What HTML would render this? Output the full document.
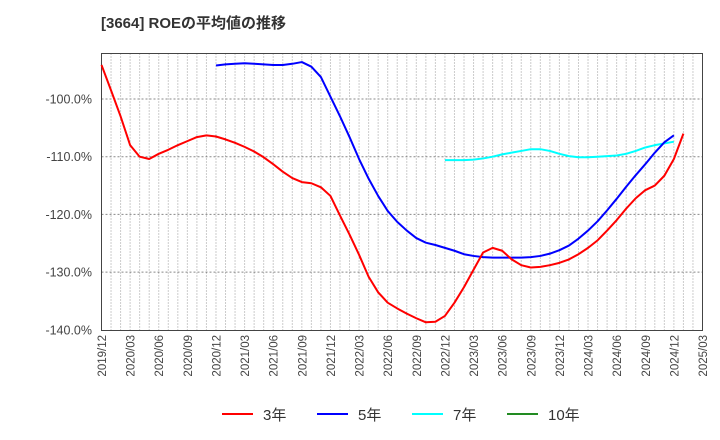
<!DOCTYPE html>
<html><head><meta charset="utf-8"><style>
body{margin:0;background:#fff;}
svg{display:block;font-family:"Liberation Sans","Noto Sans CJK JP",sans-serif;}
</style></head><body>
<svg id="chart" width="720" height="440">
<text x="101" y="28" font-size="15" font-weight="bold" fill="#333">[3664]  ROEの平均値の推移</text>
<g id="grid"></g><g id="axes"></g><g id="series"></g>
<g id="legend"></g>
</svg>
<script>
const yTicks=[-100,-110,-120,-130,-140];
const xLabels=["2019/12","2020/03","2020/06","2020/09","2020/12","2021/03","2021/06","2021/09","2021/12","2022/03","2022/06","2022/09","2022/12","2023/03","2023/06","2023/09","2023/12","2024/03","2024/06","2024/09","2024/12","2025/03"];
const red=[-94.1,-98.5,-103,-108,-110,-110.4,-109.5,-108.8,-108,-107.3,-106.6,-106.3,-106.5,-107.0,-107.6,-108.3,-109.1,-110.1,-111.3,-112.6,-113.7,-114.4,-114.6,-115.3,-116.8,-120.2,-123.5,-127,-130.8,-133.5,-135.3,-136.3,-137.2,-138,-138.7,-138.6,-137.6,-135.3,-132.6,-129.6,-126.6,-125.8,-126.3,-127.8,-128.8,-129.2,-129.1,-128.8,-128.4,-127.8,-126.9,-125.8,-124.5,-122.8,-121,-119,-117.2,-115.8,-115,-113.3,-110.4,-106];
const redStart=0;
const blue=[-94.2,-94.0,-93.9,-93.8,-93.9,-94.0,-94.1,-94.1,-93.9,-93.6,-94.4,-96.2,-99.6,-103,-106.6,-110.4,-113.8,-116.8,-119.4,-121.3,-122.8,-124.1,-124.9,-125.3,-125.8,-126.3,-126.9,-127.2,-127.4,-127.5,-127.5,-127.5,-127.5,-127.4,-127.2,-126.8,-126.2,-125.4,-124.2,-122.8,-121.2,-119.3,-117.3,-115.2,-113.2,-111.3,-109.3,-107.5,-106.3];
const blueStart=12;
const cyan=[-110.6,-110.6,-110.6,-110.5,-110.3,-110,-109.6,-109.3,-109,-108.7,-108.7,-109,-109.5,-109.9,-110.1,-110.1,-110,-109.9,-109.8,-109.5,-109,-108.4,-108,-107.7,-107.4];
const cyanStart=36;
const L=101.5,R=702.5,T=53.5,B=330.5,NM=63;
const x=m=>L+(R-L)*m/NM;
const y=v=>99+(-100-v)*5.77;
const NS="http://www.w3.org/2000/svg";
function mk(t,a,p){const e=document.createElementNS(NS,t);for(const k in a)e.setAttribute(k,a[k]);p.appendChild(e);return e;}
const grid=document.getElementById('grid'),axes=document.getElementById('axes'),ser=document.getElementById('series'),leg=document.getElementById('legend');
for(let m=1;m<NM;m++){const l=mk('line',{x1:x(m),x2:x(m),y1:T,y2:B,stroke:'#999','stroke-width':1,'stroke-dasharray':'1,2'},grid);

}
yTicks.forEach(v=>{if(v>-140){const l=mk('line',{x1:L,x2:R,y1:y(v),y2:y(v),stroke:'#888','stroke-width':1,'stroke-dasharray':'2,2'},grid);

}
const t=mk('text',{x:92,y:y(v)+4.5,'text-anchor':'end','font-size':12.5,fill:'#444'},axes);t.textContent=v.toFixed(1)+'%';

});
const fr=mk('rect',{x:L,y:T,width:R-L,height:B-T,fill:'none',stroke:'#444','stroke-width':1},axes);


xLabels.forEach((s,i)=>{const xx=x(i*3);const t=mk('text',{x:0,y:0,transform:`translate(${xx+4.5},335) rotate(-90)`,'text-anchor':'end','font-size':11.5,fill:'#444'},axes);t.textContent=s;

});
function line(d,s,c,n){const p=mk('polyline',{points:d.map((v,i)=>x(s+i)+','+y(v)).join(' '),fill:'none',stroke:c,'stroke-width':2,'stroke-linejoin':'round'},ser);

}
line(cyan,cyanStart,'#00ffff','series-7y');
line(blue,blueStart,'#0000ff','series-5y');
line(red,redStart,'#ff0000','series-3y');
[['3年','#ff0000',222],['5年','#0000ff',317],['7年','#00ffff',412],['10年','#228b22',507]].forEach(([n,c,lx])=>{
const g=mk('g',{},leg);


mk('line',{x1:lx,x2:lx+31,y1:414,y2:414,stroke:c,'stroke-width':2},g);
const t=mk('text',{x:lx+41,y:420,'font-size':15,fill:'#333'},g);t.textContent=n;});
</script>
</body></html>
